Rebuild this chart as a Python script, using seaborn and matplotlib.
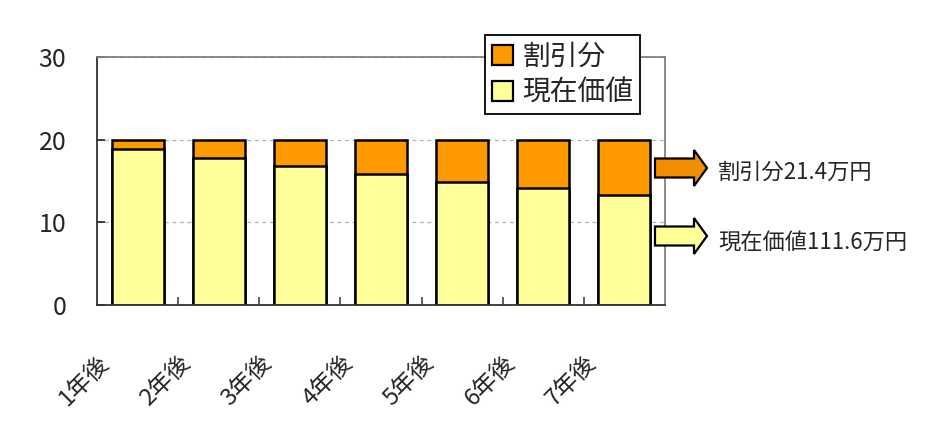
import matplotlib
matplotlib.use("Agg")
import matplotlib.pyplot as plt
import matplotlib.transforms as mtransforms
from matplotlib.patches import Polygon, Patch
import seaborn as sns
import pandas as pd
import numpy as np

years = ['1年後', '2年後', '3年後', '4年後', '5年後', '6年後', '7年後']
present_value = [18.9, 17.8, 16.8, 15.8, 14.9, 14.1, 13.3]
discount = [1.1, 2.2, 3.2, 4.2, 5.1, 5.9, 6.7]
legend_labels = ['割引分', '現在価値']
note_discount = '割引分21.4万円'
note_present = '現在価値111.6万円'

orange = '#FF9900'
yellow = '#FFFF99'

sns.set_style('white')
plt.rcParams['font.family'] = ['Noto Sans CJK JP', 'DejaVu Sans']

df = pd.DataFrame({'year': years, 'present': present_value, 'discount': discount})
df['total'] = df['present'] + df['discount']

W, H = 939, 440
fig = plt.figure(figsize=(W / 100, H / 100), dpi=100)
ax = fig.add_axes([97 / W, 1 - 305 / H, (665 - 97) / W, (305 - 57) / H])

sns.barplot(data=df, x='year', y='total', color=orange, width=0.64,
            edgecolor='black', linewidth=1.8, saturation=1, ax=ax)
sns.barplot(data=df, x='year', y='present', color=yellow, width=0.64,
            edgecolor='black', linewidth=1.8, saturation=1, ax=ax)

ax.set_xlim(-0.5, len(years) - 0.5)
ax.set_ylim(0, 30)
ax.set_yticks([0, 10, 20, 30])
ax.set_xlabel('')
ax.set_ylabel('')
ax.yaxis.grid(True, linestyle=(0, (3, 3)), color='#b0b0b0', linewidth=0.9)
ax.set_axisbelow(True)

for side in ['left', 'bottom']:
    ax.spines[side].set_color('#333333')
    ax.spines[side].set_linewidth(1.3)
for side in ['top', 'right']:
    ax.spines[side].set_color('#808080')
    ax.spines[side].set_linewidth(1.3)

# y ticks pointing inward, x ticks at category boundaries
ax.tick_params(axis='y', left=True, direction='in', length=6, width=1.3, color='#333333',
               labelsize=18, pad=22)
ax.set_xticks(np.arange(len(years)))
ax.set_xticklabels(years, rotation=45, ha='right', va='top', fontsize=17)
ax.tick_params(axis='x', which='major', bottom=False, pad=30)
ax.set_xticks(np.arange(len(years) - 1) + 0.5, minor=True)
ax.tick_params(axis='x', which='minor', bottom=True, direction='in', length=6, width=1.1,
               color='#333333')

offset = mtransforms.ScaledTranslation(-24 / 100, 0, fig.dpi_scale_trans)
for lab in ax.get_xticklabels():
    lab.set_transform(lab.get_transform() + offset)

handles = [Patch(facecolor=orange, edgecolor='black', linewidth=1.6),
           Patch(facecolor=yellow, edgecolor='black', linewidth=1.6)]
leg = fig.legend(handles, legend_labels, loc='upper left',
                 bbox_to_anchor=(485 / W, 1 - 35 / H), fontsize=20,
                 frameon=True, fancybox=False, edgecolor='black',
                 handlelength=0.75, handleheight=0.75, handletextpad=0.35,
                 borderpad=0.25, labelspacing=0.2, borderaxespad=0)
leg.get_frame().set_linewidth(1.3)
leg.get_frame().set_alpha(1)


def block_arrow(x0, yc, color):
    body_h, head_h = 19, 36
    x1, x2 = 694, 707
    pts = [(x0, yc - body_h / 2), (x1, yc - body_h / 2), (x1, yc - head_h / 2),
           (x2, yc), (x1, yc + head_h / 2), (x1, yc + body_h / 2), (x0, yc + body_h / 2)]
    pts = [(px / W, 1 - py / H) for px, py in pts]
    fig.patches.append(Polygon(pts, closed=True, facecolor=color, edgecolor='black',
                               linewidth=1.6, transform=fig.transFigure, zorder=5))


block_arrow(655, 168, '#F28C00')
block_arrow(655, 236, yellow)
fig.text(718 / W, 1 - 172 / H, note_discount, fontsize=16, va='center', ha='left')
fig.text(718 / W, 1 - 242 / H, note_present, fontsize=16, va='center', ha='left')

fig.savefig('out.png', dpi=100)
